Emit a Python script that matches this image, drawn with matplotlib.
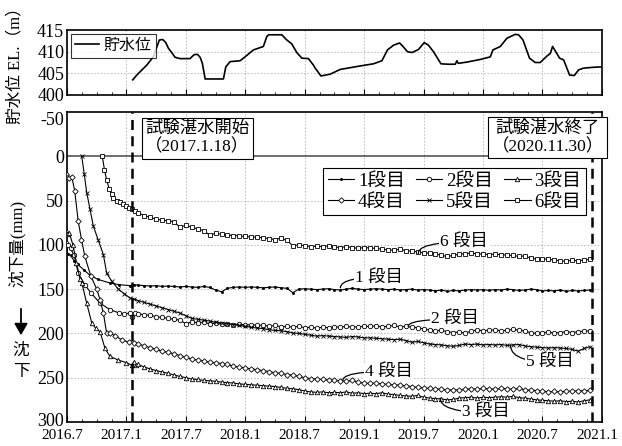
#!/usr/bin/env python3

import numpy as np
import matplotlib
matplotlib.use("Agg")
import matplotlib.pyplot as plt
import matplotlib.transforms as mtransforms
from matplotlib.ticker import FixedLocator, MultipleLocator

plt.rcParams["font.family"] = ["Liberation Serif", "Noto Sans CJK JP"]
plt.rcParams["axes.unicode_minus"] = False

# x values are decimal years (2016.5 = 2016/7/1)
START = 2017.047   # 2017.1.18
END = 2020.915     # 2020.11.30

# reservoir water level (m)
WL_T = [2017.053, 2017.087, 2017.171, 2017.226, 2017.277, 2017.306, 2017.331, 2017.353, 2017.381, 2017.409,
        2017.451, 2017.535, 2017.569, 2017.597, 2017.620, 2017.639, 2017.662, 2017.816, 2017.836, 2017.872,
        2017.956, 2017.998, 2018.068, 2018.152, 2018.181, 2018.198, 2018.307, 2018.349, 2018.391, 2018.433,
        2018.476, 2018.531, 2018.573, 2018.588, 2018.636, 2018.714, 2018.798, 2018.966, 2019.078, 2019.149,
        2019.196, 2019.247, 2019.297, 2019.317, 2019.364, 2019.402, 2019.457, 2019.505, 2019.541, 2019.583,
        2019.646, 2019.710, 2019.766, 2019.780, 2019.791, 2019.865, 2019.976, 2020.061, 2020.083, 2020.145,
        2020.201, 2020.271, 2020.299, 2020.336, 2020.391, 2020.439, 2020.481, 2020.538, 2020.566, 2020.585,
        2020.616, 2020.644, 2020.678, 2020.728, 2020.768, 2020.804, 2020.846, 2020.930, 2021.001]
WL_V = [403.5, 404.6, 406.9, 408.8, 412.7, 412.8, 412.1, 410.8, 409.8, 408.7,
        408.4, 408.4, 409.3, 409.4, 408.7, 407.3, 403.7, 403.7, 406.5, 407.7,
        407.9, 408.8, 410.4, 411.2, 413.5, 413.9, 413.9, 412.7, 411.8, 409.8,
        408.5, 408.4, 406.9, 406.2, 404.4, 404.8, 405.9, 406.7, 407.2, 407.9,
        410.4, 411.5, 412.0, 411.5, 410.0, 409.8, 410.5, 412.1, 411.5, 410.0,
        407.2, 407.1, 407.1, 407.9, 407.3, 407.6, 408.2, 408.8, 410.4, 411.2,
        413.1, 414.0, 413.9, 412.7, 408.5, 407.5, 407.5, 409.0, 409.6, 411.2,
        409.8, 408.5, 408.1, 404.6, 404.5, 405.8, 406.2, 406.4, 406.5]

# measurement dates after impounding start (shared by all stages)
TAIL_T = [2017.10, 2017.15, 2017.20, 2017.25, 2017.30, 2017.35, 2017.40, 2017.45, 2017.50, 2017.55,
          2017.60, 2017.65, 2017.70, 2017.75, 2017.80, 2017.85, 2017.90, 2017.95, 2018.00, 2018.05,
          2018.10, 2018.15, 2018.20, 2018.25, 2018.30, 2018.35, 2018.40, 2018.45, 2018.50, 2018.55,
          2018.60, 2018.65, 2018.70, 2018.75, 2018.80, 2018.85, 2018.90, 2018.95, 2019.00, 2019.05,
          2019.10, 2019.15, 2019.20, 2019.25, 2019.30, 2019.35, 2019.40, 2019.45, 2019.50, 2019.55,
          2019.60, 2019.65, 2019.70, 2019.75, 2019.80, 2019.85, 2019.90, 2019.95, 2020.00, 2020.05,
          2020.10, 2020.15, 2020.20, 2020.25, 2020.30, 2020.35, 2020.40, 2020.45, 2020.50, 2020.55,
          2020.60, 2020.65, 2020.70, 2020.75, 2020.80, 2020.85, 2020.90]

# settlement (mm), early period (own dates) + tail values on TAIL_T
S1_T = [2016.49, 2016.51, 2016.53, 2016.56, 2016.59, 2016.64, 2016.69, 2016.76, 2016.86, 2016.94, 2017.03, 2017.06]
S1_V = [105, 110, 112, 118, 122, 128, 134, 139, 143, 145, 146, 145]
S1_TAIL = [145.5, 146, 146.5, 146, 147, 146.5, 147, 147.5, 147, 147.5,
           148, 147, 148, 151, 153, 149, 148, 147.5, 148, 147.5,
           148, 148.5, 148, 147.5, 148.5, 149, 154, 150, 149.5, 150,
           150.5, 150, 149.5, 150.5, 151, 150, 149, 150, 150.5, 150,
           149.5, 150, 150.5, 150, 151, 150.5, 150, 151, 150.5, 151,
           152, 151, 152.5, 151.5, 152, 151, 150.5, 151, 150.5, 151.5,
           150.5, 151, 150, 150.5, 151.5, 151, 150, 150.5, 152, 151.5,
           152, 151, 152.5, 151.5, 152, 151.5, 151]

S2_T = [2016.49, 2016.51, 2016.53, 2016.56, 2016.595, 2016.65, 2016.70, 2016.78, 2016.86, 2016.94, 2016.98,
        2017.03, 2017.05, 2017.075]
S2_V = [98, 100, 104, 112, 132, 145, 154, 166, 173, 177, 178, 177, 181, 177]
S2_TAIL = [178, 179, 179.5, 181, 182, 183, 184, 185, 189, 187,
           188, 187.5, 189, 188.5, 189.5, 189, 190, 189.5, 190.5, 190,
           191, 190.5, 192, 191, 192.5, 192, 193, 192, 193.5, 193,
           194, 193, 193.5, 192.5, 193, 192, 193, 192.5, 192, 192,
           191.5, 192.5, 192, 191, 192.5, 192, 193, 193.5, 195, 196,
           197, 196.5, 198, 199, 198.5, 199.5, 197.5, 196, 197, 196.5,
           196, 197, 196.5, 195.5, 196, 197.5, 199, 200, 199, 198.5,
           199.5, 199, 198, 199, 198, 197.5, 197]

S3_T = [2016.49, 2016.50, 2016.52, 2016.55, 2016.58, 2016.61, 2016.625, 2016.666, 2016.708, 2016.74,
        2016.778, 2016.82, 2016.862, 2016.93, 2017.0, 2017.047, 2017.06, 2017.08]
S3_V = [83, 88, 87, 100, 120, 139, 143, 166, 188, 194, 198, 217, 226, 230, 233, 236, 232, 236]
S3_TAIL = [235, 238, 240, 242, 243.5, 245, 247, 248.5, 250, 251.5,
           252, 253, 253.5, 254, 255, 255.5, 256, 257, 257.5, 258,
           258.5, 259, 259.5, 260, 261, 262, 262.5, 263.5, 265, 266,
           266.5, 266, 267, 266.5, 267, 266, 267.5, 267, 268, 267.5,
           268, 267, 268.5, 269, 270, 270.5, 271, 270, 272, 273,
           273.5, 274, 275, 274.5, 273, 272.5, 272, 273, 272, 272.5,
           272, 271.5, 272, 271, 272.5, 273, 274, 275, 275.5, 276,
           276.5, 276, 277, 276.5, 277.5, 276, 275]

S4_T = [2016.49, 2016.50, 2016.52, 2016.54, 2016.565, 2016.594, 2016.622, 2016.65, 2016.70, 2016.75,
        2016.778, 2016.806, 2016.834, 2016.862, 2016.904, 2016.96, 2017.02, 2017.06]
S4_V = [20, 24, 25, 23, 39, 73, 94, 113, 135, 150, 162, 177, 200, 199, 203, 207, 210, 211]
S4_TAIL = [212, 214, 216, 218, 220, 221.5, 223, 225, 227, 229,
           230, 231, 232.5, 233, 234, 235, 237, 238, 239, 240,
           241, 242, 243, 244.5, 245, 246.5, 247, 248.5, 250, 251,
           251.5, 252, 252.5, 253, 253.5, 254, 253, 255, 256, 256.5,
           256, 257, 257.5, 258, 258.5, 259, 260, 261, 261.5, 262,
           262.5, 263, 264, 263.5, 264, 263, 262.5, 263, 262, 262.5,
           263, 262, 262.5, 263, 262, 263.5, 264, 264.5, 265, 266,
           265.5, 266, 265, 265.5, 264.5, 265, 264]

S5_T = [2016.624, 2016.645, 2016.666, 2016.694, 2016.722, 2016.764, 2016.806, 2016.834, 2016.876, 2016.932,
        2016.98, 2017.03, 2017.06]
S5_V = [0, 20, 41, 60, 79, 95, 111, 132, 141, 150, 155, 160, 161]
S5_TAIL = [163, 165, 167, 169, 171, 173, 175, 177, 180, 183,
           184, 185, 186, 187.5, 188, 189, 190, 191, 192, 193,
           194, 194.5, 196, 196.5, 197, 198, 199.5, 200, 201, 202,
           203, 202.5, 203, 203.5, 204, 204.5, 203.5, 204, 205, 205,
           205.5, 206, 206.5, 207, 206.5, 208, 210, 209, 210.5, 212,
           212.5, 213, 214, 214.5, 213.5, 212, 212.5, 212, 213, 212.5,
           213, 212.5, 213.5, 213, 212.5, 214, 215, 215.5, 216, 216.5,
           216, 216.5, 217, 218, 220, 217, 215]

S6_T = [2016.797, 2016.815, 2016.834, 2016.856, 2016.875, 2016.89, 2016.92, 2016.946, 2016.975, 2017.0,
        2017.025, 2017.05, 2017.075]
S6_V = [0, 15, 27, 37, 43, 47, 50, 52, 54, 56, 58, 60, 62]
S6_TAIL = [64, 67, 69, 71, 72, 73, 74, 80, 78, 80,
           82, 84, 89, 87, 88, 89, 89.5, 90, 90.5, 91,
           91.5, 92, 93, 94, 92.5, 95, 101, 100, 101, 102,
           101.5, 102, 101, 102.5, 103, 102, 103, 104, 103, 103.5,
           104, 105, 105.5, 106, 105, 106.5, 107, 108, 109, 109.5,
           110, 112, 113, 112, 110.5, 110, 109.5, 110, 110.5, 111,
           110.5, 111, 111.5, 112, 113, 112.5, 115, 116, 115.5, 116.5,
           117, 118, 118.5, 117.5, 118, 117, 116.5]

STAGE_LABELS = ["1段目", "2段目", "3段目", "4段目", "5段目", "6段目"]
STAGE_MARKERS = [".", "o", "^", "D", "x", "s"]
STAGES = [(S1_T, S1_V, S1_TAIL), (S2_T, S2_V, S2_TAIL), (S3_T, S3_V, S3_TAIL),
          (S4_T, S4_V, S4_TAIL), (S5_T, S5_V, S5_TAIL), (S6_T, S6_V, S6_TAIL)]

# curved leader labels: (text, point on line, text position)
CALLOUTS = [
    ("6 段目", (2019.455, 110), (2019.64, 97)),
    ("1 段目", (2018.80, 148.5), (2018.92, 137)),
    ("2 段目", (2019.37, 192), (2019.56, 184)),
    ("5 段目", (2020.23, 213), (2020.36, 232)),
    ("4 段目", (2018.82, 253), (2019.01, 243)),
    ("3 段目", (2019.64, 273), (2019.82, 289)),
]

XTICKS = [2016.5, 2017.0, 2017.5, 2018.0, 2018.5, 2019.0, 2019.5, 2020.0, 2020.5, 2021.0]
XTICKLABELS = ["2016.7", "2017.1", "2017.7", "2018.1", "2018.7", "2019.1", "2019.7", "2020.1", "2020.7", "2021.1"]

GRID = dict(color="#b5b5b5", linestyle=(0, (2, 2)), linewidth=0.6)

fig = plt.figure(figsize=(6.22, 4.46), dpi=100)
ax_top = fig.add_axes([0.1077, 0.787, 0.860, 0.1457])
ax = fig.add_axes([0.1077, 0.0538, 0.860, 0.6951])

for a in (ax_top, ax):
    a.set_xlim(2016.5, 2021.0)
    a.xaxis.set_major_locator(FixedLocator(XTICKS))
    a.xaxis.set_minor_locator(MultipleLocator(0.125))
    a.tick_params(axis="both", which="both", direction="in", pad=2)
    a.tick_params(axis="y", which="major", length=0, labelsize=13)
    a.tick_params(axis="x", which="major", length=4, pad=5, labelsize=11)
    a.tick_params(axis="x", which="minor", length=2.5)
    for sp in a.spines.values():
        sp.set_linewidth(1.2)
    a.set_axisbelow(True)

# water level panel
ax_top.set_ylim(400, 415)
ax_top.yaxis.set_major_locator(FixedLocator([400, 405, 410, 415]))
ax_top.grid(True, which="major", **GRID)
ax_top.plot(WL_T, WL_V, color="black", lw=1.2, label="貯水位")
ax_top.set_xticklabels([])
leg0 = ax_top.legend(loc="upper left", fontsize=11.5, frameon=True, fancybox=False,
                     handlelength=1.5, handletextpad=0.3, borderpad=0.25,
                     borderaxespad=0.25)
leg0.get_frame().set_edgecolor("black")
leg0.get_frame().set_linewidth(0.8)

# settlement panel
ax.set_ylim(300, -50)
ax.yaxis.set_major_locator(FixedLocator([-50, 0, 50, 100, 150, 200, 250, 300]))
ax.set_xticklabels(XTICKLABELS)
ax.grid(True, axis="x", which="major", **GRID)
for yv in [50, 100, 150, 200, 250]:
    ax.axhline(yv, zorder=0, **GRID)
ax.axhline(0, color="#555555", lw=1.2, zorder=1)

# label nudges: end y labels pulled inwards, date labels a little left
fig.canvas.draw()
ylabs = ax.get_yticklabels()
ylabs[0].set_transform(ylabs[0].get_transform() +
                       mtransforms.ScaledTranslation(0, -7 / 100, fig.dpi_scale_trans))
ylabs[-1].set_transform(ylabs[-1].get_transform() +
                        mtransforms.ScaledTranslation(0, 3 / 100, fig.dpi_scale_trans))
for lab in ax.get_xticklabels():
    lab.set_transform(lab.get_transform() +
                      mtransforms.ScaledTranslation(-5 / 100, 0, fig.dpi_scale_trans))

handles = []
for (t0, v0, tail), lab, mk in zip(STAGES, STAGE_LABELS, STAGE_MARKERS):
    t = list(t0) + TAIL_T
    v = list(v0) + tail
    ms = {".": 3.0, "D": 2.8, "x": 3.4}.get(mk, 3.2)
    h, = ax.plot(t, v, color="black", lw=0.8, marker=mk, ms=ms,
                 mfc="white" if mk not in (".", "x") else "black",
                 mec="black", mew=0.6, label=lab, zorder=3)
    handles.append(h)

ax.axvline(START, color="black", lw=1.8, linestyle=(0, (4, 2.5)), zorder=4)
ax.axvline(END, color="black", lw=1.8, linestyle=(0, (4, 2.5)), zorder=4)

box = dict(boxstyle="square,pad=0.2", fc="white", ec="black", lw=0.8)
ax.text(2017.595, -20, "試験湛水開始\n（2017.1.18）", ha="center", va="center", fontsize=12.5,
        linespacing=1.15, bbox=box, zorder=5)
ax.text(2020.545, -21, "試験湛水終了\n（2020.11.30）", ha="center", va="center", fontsize=12.5,
        linespacing=1.15, bbox=box, zorder=5)

# row-wise order in a 3-column legend
order = [0, 3, 1, 4, 2, 5]
leg = ax.legend([handles[i] for i in order], [STAGE_LABELS[i] for i in order],
                loc="upper right", ncol=3, fontsize=13.5, frameon=True, fancybox=False,
                bbox_to_anchor=(0.970, 0.819), borderaxespad=0, handlelength=1.4,
                handletextpad=0.2, columnspacing=0.6, borderpad=0.25, labelspacing=0.2)
leg.get_frame().set_edgecolor("black")
leg.get_frame().set_linewidth(0.8)
leg.get_frame().set_alpha(1)
leg.set_zorder(6)

for txt, pt, tp in CALLOUTS:
    ax.annotate(txt, xy=pt, xytext=tp, ha="left", va="center", fontsize=12.5,
                bbox=dict(boxstyle="square,pad=0.05", fc="white", ec="none"),
                arrowprops=dict(arrowstyle="-", color="black", lw=0.9,
                                connectionstyle="angle3,angleA=0,angleB=90",
                                shrinkA=0, shrinkB=0),
                zorder=5)

# axis titles
fig.text(15 / 622, 1 - 62 / 446, "貯水位 EL.（m）", rotation=90, ha="center", va="center", fontsize=12)
fig.text(17 / 622, 1 - 243 / 446, "沈下量(mm)", rotation=90, ha="center", va="center", fontsize=12)
fig.text(21 / 622, 1 - 351 / 446, "沈", ha="center", va="center", fontsize=12)
fig.text(21 / 622, 1 - 372 / 446, "下", ha="center", va="center", fontsize=12)
fig.add_artist(matplotlib.patches.FancyArrowPatch((21 / 622, 1 - 306 / 446), (21 / 622, 1 - 338 / 446),
                                                  transform=fig.transFigure,
                                                  arrowstyle="-|>,head_length=7,head_width=4",
                                                  color="black", lw=1.3, mutation_scale=1))

fig.savefig("out.png", dpi=100)
